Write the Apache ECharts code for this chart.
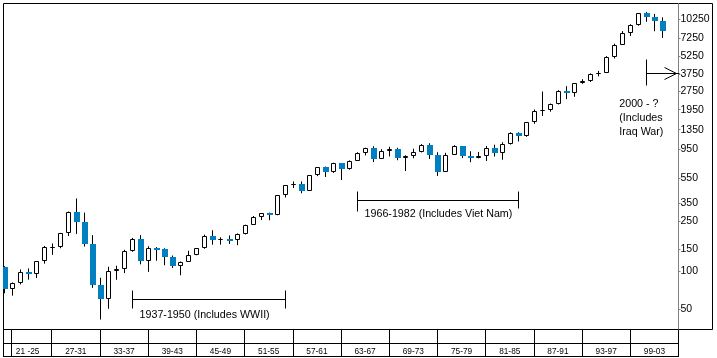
<!DOCTYPE html>
<html>
<head>
<meta charset="utf-8">
<script src="https://cdn.jsdelivr.net/npm/echarts@6/dist/echarts.min.js"></script>
<style>
html,body{margin:0;padding:0;background:#fff;}
#chart{width:717px;height:358px;}
</style>
</head>
<body>
<div id="chart"></div>
<script>
// Axis categories (years)
const axisYears = ['1920','1921','1922','1923','1924','1925','1926','1927','1928','1929',
'1930','1931','1932','1933','1934','1935','1936','1937','1938','1939',
'1940','1941','1942','1943','1944','1945','1946','1947','1948','1949',
'1950','1951','1952','1953','1954','1955','1956','1957','1958','1959',
'1960','1961','1962','1963','1964','1965','1966','1967','1968','1969',
'1970','1971','1972','1973','1974','1975','1976','1977','1978','1979',
'1980','1981','1982','1983','1984','1985','1986','1987','1988','1989',
'1990','1991','1992','1993','1994','1995','1996','1997','1998','1999',
'2000','2001','2002','2003','2004'];

// Candle years and yearly OHLC
const years = axisYears.slice(0, 83);
const opens = [107.23,71.95,81.10,98.73,95.52,120.51,156.66,157.20,202.40,300.00,
248.48,164.58,77.90,59.93,99.90,104.04,144.13,179.90,120.85,154.76,
150.24,131.13,110.96,119.40,135.89,152.32,192.91,177.20,181.16,177.30,
200.13,235.41,269.23,291.90,280.90,404.39,488.40,499.47,435.69,583.65,
679.36,615.89,731.14,652.10,762.95,874.13,969.26,785.69,905.11,943.75,
800.36,838.92,890.20,1020.02,850.86,616.24,852.41,1004.65,831.17,805.01,
838.74,963.99,875.00,1046.54,1258.64,1211.57,1546.67,1895.95,1938.83,2168.57,
2753.20,2633.66,3168.83,3301.11,3754.09,3834.44,5117.12,6448.27,7908.25,9181.43,
11497.12,10786.85,10021.50];
const closes = [71.95,81.10,98.73,95.52,120.51,156.66,157.20,202.40,300.00,248.48,
164.58,77.90,59.93,99.90,104.04,144.13,179.90,120.85,154.76,150.24,
131.13,110.96,119.40,135.89,152.32,192.91,177.20,181.16,177.30,200.13,
235.41,269.23,291.90,280.90,404.39,488.40,499.47,435.69,583.65,679.36,
615.89,731.14,652.10,762.95,874.13,969.26,785.69,905.11,943.75,800.36,
838.92,890.20,1020.02,850.86,616.24,852.41,1004.65,831.17,805.01,838.74,
963.99,875.00,1046.54,1258.64,1211.57,1546.67,1895.95,1938.83,2168.57,2753.20,
2633.66,3168.83,3301.11,3754.09,3834.44,5117.12,6448.27,7908.25,9181.43,11497.12,
10786.85,10021.50,8341.63];
const lows = [66.75,63.90,78.59,85.76,88.33,115.00,135.20,152.73,191.33,198.69,
157.51,73.79,41.22,50.16,85.51,96.71,143.11,113.64,98.95,121.44,
111.84,106.34,92.92,119.26,134.22,151.35,163.12,163.21,165.39,161.60,
196.81,238.99,256.35,255.49,279.87,388.20,462.35,419.79,436.89,574.46,
566.05,610.25,535.76,646.79,766.08,840.59,744.32,786.41,825.13,769.93,
631.16,797.97,889.15,788.31,577.60,632.04,858.71,800.85,742.12,796.67,
759.13,824.01,776.92,1027.04,1086.57,1184.96,1502.29,1738.74,1879.14,2144.64,
2365.10,2470.30,3136.58,3241.95,3593.35,3832.08,5000.00,6391.69,7539.07,9120.67,
9796.03,8235.81,7286.27];
const highs = [109.88,81.50,103.43,105.38,120.51,159.39,166.64,202.40,300.00,381.17,
294.07,194.36,88.78,108.67,110.74,148.44,184.90,194.40,158.41,155.92,
152.80,133.59,119.71,145.82,152.53,195.82,212.50,186.85,193.16,200.52,
235.47,276.37,292.00,293.79,404.39,488.40,521.05,520.77,583.65,679.36,
685.47,734.91,726.01,767.21,891.71,969.26,995.15,943.08,985.21,968.85,
842.00,950.82,1036.27,1051.70,891.66,881.81,1014.79,999.75,907.74,897.61,
1000.17,1024.05,1070.55,1287.20,1286.64,1553.10,1955.57,2722.42,2183.50,2791.41,
2999.75,3168.83,3413.21,3794.33,3978.36,5216.47,6560.91,8259.31,9374.27,11497.12,
11722.98,11337.92,10635.25];

// Right axis tick labels
const yTickLabels = [50,100,150,250,350,550,950,1350,1950,2750,3750,5250,7250,10250];
// Bottom table labels
const tableLabels = ['21 -25','27-31','33-37','39-43','45-49','51-55','57-61','63-67','69-73','75-79','81-85','87-91','93-97','99-03'];

// Annotation brackets (category, value)
const bracketWWII = [[['1936',59.8],['1955',59.8]],[['1936',70.9],['1936',50.7]],[['1955',70.9],['1955',50.7]]];
const bracketViet = [[['1964',368.6],['1984',368.6]],[['1964',437],['1964',303]],[['1984',437],['1984',318]]];
const bracketIraq = [[['2000',4920],['2000',3051]],[['2000',3846],['2004',3846]]];
const arrowIraq = ['2004', 3846];
// Annotation texts (anchor category, anchor value, text)
const notes = [
  ['1936', 44.8, '1937-1950 (Includes WWII)'],
  ['1964', 288, '1966-1982 (Includes Viet Nam)']
];
const noteIraq = ['1997', 1664, '2000 - ?\n(Includes\nIraq War)'];

const BLUE = '#0080c0';
const FONT = 'Liberation Sans, Arial, sans-serif';

const candleData = years.map((y, i) => [y, opens[i], closes[i], lows[i], highs[i]]);
const segments = [].concat(bracketWWII, bracketViet, bracketIraq);

function renderCandle(params, api) {
  const idx = api.value(0);
  const o = api.value(1), c = api.value(2), l = api.value(3), h = api.value(4);
  const pO = api.coord([idx, o]), pC = api.coord([idx, c]);
  const pL = api.coord([idx, l]), pH = api.coord([idx, h]);
  const px = Math.round(pO[0]);
  const up = c >= o;
  const yTop = Math.round(Math.min(pO[1], pC[1]));
  const yBot = Math.round(Math.max(pO[1], pC[1]));
  const children = [{
    type: 'line',
    shape: {x1: px + 0.5, y1: pH[1], x2: px + 0.5, y2: pL[1]},
    style: {stroke: '#000', lineWidth: 1}
  }];
  if (up) {
    children.push({
      type: 'rect',
      shape: {x: px - 1.5, y: yTop + 0.5, width: 4, height: Math.max(yBot - yTop - 1, 0)},
      style: {fill: '#fff', stroke: '#000', lineWidth: 1}
    });
  } else {
    children.push({
      type: 'rect',
      shape: {x: px - 2, y: yTop, width: 6, height: Math.max(yBot - yTop, 2)},
      style: {fill: BLUE}
    });
  }
  return {type: 'group', children: children};
}

function crisp(api, p) {
  const c = api.coord([axisYears.indexOf(p[0]), p[1]]);
  return [Math.round(c[0]) + 0.5, Math.round(c[1]) + 0.5];
}

function renderSegment(params, api) {
  const seg = segments[params.dataIndex];
  return {
    type: 'polyline',
    shape: {points: seg.map(p => crisp(api, p))},
    style: {stroke: '#000', lineWidth: 1, fill: null}
  };
}

function renderArrow(params, api) {
  const t = crisp(api, arrowIraq);
  const tipX = t[0] - 3;
  return {
    type: 'polyline',
    shape: {points: [[tipX - 12, t[1] - 6], [tipX, t[1]], [tipX - 12, t[1] + 6]]},
    style: {stroke: '#000', lineWidth: 1, fill: null}
  };
}

const chart = echarts.init(document.getElementById('chart'), null, {renderer: 'canvas'});
chart.setOption({
  animation: false,
  backgroundColor: '#fff',
  grid: [
    {left: 3.5, top: 3.5, right: 4.5, bottom: 28.5, show: true, borderColor: '#000', borderWidth: 1, backgroundColor: 'transparent'},
    {left: 3.5, top: 3.5, right: 38.5, bottom: 28.5, show: false},
    {left: 3.5, top: 329.5, right: 38.5, bottom: 1.5, show: true, borderColor: '#000', borderWidth: 1, backgroundColor: 'transparent'}
  ],
  xAxis: [
    {gridIndex: 0, type: 'value', show: false},
    {gridIndex: 1, type: 'category', data: axisYears, boundaryGap: false, show: false},
    {gridIndex: 2, type: 'category', data: axisYears, boundaryGap: false, position: 'bottom',
      axisLine: {show: true, lineStyle: {color: '#000', width: 1}},
      axisTick: {show: true, inside: true, length: 27, alignWithLabel: false,
        interval: (idx) => idx === 1 || idx % 6 === 0,
        lineStyle: {color: '#000', width: 1}},
      axisLabel: {show: true, inside: true, margin: 1,
        interval: (idx) => idx % 6 === 3,
        formatter: (val, idx) => tableLabels[(idx - 3) / 6] || '',
        color: '#000', fontSize: 8.3, fontFamily: FONT},
      splitLine: {show: false}
    }
  ],
  yAxis: [
    {gridIndex: 0, type: 'value', show: false},
    {gridIndex: 1, type: 'log', logBase: 10, min: 34.31, max: 13720, position: 'right',
      axisLine: {show: true, lineStyle: {color: '#808080', width: 1}},
      axisTick: {show: true, length: 2, customValues: yTickLabels, lineStyle: {color: '#808080'}},
      axisLabel: {show: true, margin: 2, customValues: yTickLabels, color: '#000', fontSize: 10.5, fontFamily: FONT,
        formatter: (v) => String(Math.round(v))},
      splitLine: {show: false}, minorTick: {show: false}
    },
    {gridIndex: 2, type: 'value', min: 0, max: 2, interval: 1,
      axisLine: {show: false}, axisTick: {show: false}, axisLabel: {show: false},
      splitLine: {show: true, lineStyle: {color: '#000', width: 1}}
    }
  ],
  series: [
    {
      type: 'custom', xAxisIndex: 1, yAxisIndex: 1, data: candleData,
      encode: {x: 0, y: [1, 2, 3, 4]}, renderItem: renderCandle, clip: true, silent: true
    },
    {
      type: 'custom', xAxisIndex: 1, yAxisIndex: 1, silent: true,
      data: segments.map((s, i) => [i]), renderItem: renderSegment, clip: false
    },
    {
      type: 'custom', xAxisIndex: 1, yAxisIndex: 1, silent: true,
      data: [[0]], renderItem: renderArrow, clip: false
    },
    {
      type: 'scatter', xAxisIndex: 1, yAxisIndex: 1, symbolSize: 1, silent: true,
      itemStyle: {color: 'rgba(0,0,0,0)', opacity: 1},
      data: notes.map(n => ({value: [n[0], n[1]], name: n[2]})),
      label: {show: true, position: 'right', distance: 7, formatter: (p) => p.name,
        color: '#000', opacity: 1, fontSize: 10.7, fontFamily: FONT}
    },
    {
      type: 'scatter', xAxisIndex: 1, yAxisIndex: 1, symbolSize: 1, silent: true,
      itemStyle: {color: 'rgba(0,0,0,0)', opacity: 1},
      data: [{value: [noteIraq[0], noteIraq[1]], name: noteIraq[2]}],
      label: {show: true, position: 'inside', align: 'left', verticalAlign: 'middle', offset: [-3, 0],
        formatter: (p) => p.name, lineHeight: 14, opacity: 1,
        color: '#000', fontSize: 10.7, fontFamily: FONT}
    }
  ]
});
</script>
</body>
</html>
